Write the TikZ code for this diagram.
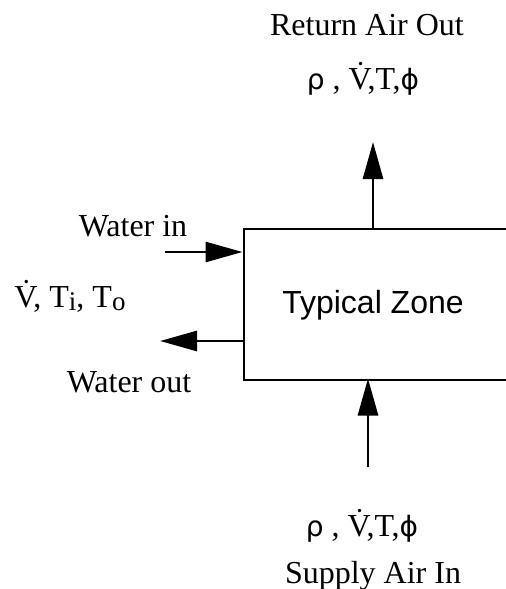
\documentclass[tikz,border=0pt]{standalone}
\usepackage{fontspec}
\setmainfont{Liberation Serif}
\newfontfamily\labelsans{Liberation Sans}
\newfontfamily\symfont{DejaVu Sans}
\usetikzlibrary{arrows.meta}
\tikzset{
  lbl/.style={font=\fontsize{32}{32}\selectfont, inner sep=0pt, anchor=base},
  flow/.style={line width=2.8pt, -{Triangle[length=37pt,width=20pt]}},
  wall/.style={line width=2.9pt},
}
\newcommand{\vdotV}{\.{V}}
\newcommand{\subsc}[1]{\raisebox{-3pt}{\fontsize{27}{27}\selectfont #1}}
\newcommand{\grk}[1]{{\symfont\fontsize{28}{28}\selectfont #1}}
\newcommand{\airvars}{\grk{ρ} , \vdotV,T,\grk{ϕ}}
\begin{document}
\begin{tikzpicture}[x=1pt,y=-1pt]
\useasboundingbox (0,0) rectangle (506,589);
\clip (0,0) rectangle (506,589);
% zone box (open to the right, extends past the frame)
\node[wall, draw, rectangle, minimum width=300pt, minimum height=151pt, inner sep=0pt, anchor=north west] (zone) at (242.5,227.5) {};
\node[font=\labelsans\fontsize{32}{32}\selectfont, inner sep=0pt, anchor=base] (zlabel) at (373,313) {Typical Zone};
% return air
\node[lbl] (rtitle) at (367,35) {Return Air Out};
\node[lbl] (rvars) at (363,89) {\airvars};
\coordinate (rbase) at (373,227.5);
\coordinate (rtip) at (373,142);
\draw[flow] (rbase) -- (rtip);
% supply air
\coordinate (sbase) at (368,467);
\coordinate (stip) at (368,378.5);
\draw[flow] (sbase) -- (stip);
\node[lbl] (svars) at (362,536) {\airvars};
\node[lbl] (stitle) at (373,583) {Supply Air In};
% water
\node[lbl] (win) at (133,236) {Water in};
\coordinate (wistart) at (165,252);
\coordinate (wiend) at (242.5,252);
\draw[flow] (wistart) -- (wiend);
\node[lbl] (wvars) at (70,307) {\vdotV, T\subsc{i}, T\subsc{o}};
\coordinate (wostart) at (242.5,341);
\coordinate (woend) at (160,341);
\draw[flow] (wostart) -- (woend);
\node[lbl] (wout) at (129,392) {Water out};
\end{tikzpicture}
\end{document}
